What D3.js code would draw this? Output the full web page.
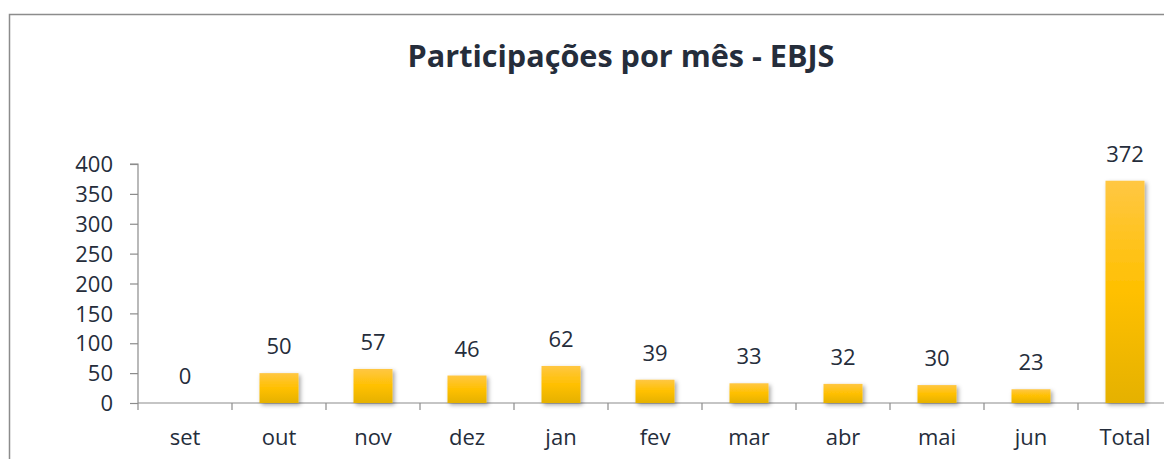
<!DOCTYPE html>
<html>
<head>
<meta charset="utf-8">
<script src="https://cdn.jsdelivr.net/npm/d3@7"></script>
<style>
  body { margin: 0; background: #fff; }
  svg { display: block; font-family: 'Open Sans', sans-serif; }
  .tick text { fill: #252d3b; }
</style>
</head>
<body>
<script>
const months = ['set', 'out', 'nov', 'dez', 'jan', 'fev', 'mar', 'abr', 'mai', 'jun', 'Total'];
const participations = [0, 50, 57, 46, 62, 39, 33, 32, 30, 23, 372];
const yTicks = [0, 50, 100, 150, 200, 250, 300, 350, 400];
const title = 'Participações por mês - EBJS';

const width = 1164, height = 459;
const textColor = '#252d3b';

const svg = d3.select('body').append('svg')
  .attr('width', width)
  .attr('height', height);

const defs = svg.append('defs');
let grad = defs.append('linearGradient')
  .attr('id', 'barFill')
  .attr('x1', 0).attr('y1', 0).attr('x2', 0).attr('y2', 1);
grad.append('stop').attr('offset', '0%').attr('stop-color', '#ffc743');
grad.append('stop').attr('offset', '50%').attr('stop-color', '#ffc000');
grad.append('stop').attr('offset', '100%').attr('stop-color', '#e5b100');

let shadow = defs.append('filter')
  .attr('id', 'shadow')
  .attr('x', '-20%').attr('y', '-20%').attr('width', '150%').attr('height', '150%');
shadow.append('feDropShadow')
  .attr('dx', 2).attr('dy', 2).attr('stdDeviation', 2)
  .attr('flood-color', '#000').attr('flood-opacity', 0.35);

// chart frame (cropped on the right and bottom)
svg.append('path')
  .attr('d', `M9.5,${height} V14.5 H${width}`)
  .attr('fill', 'none')
  .attr('stroke', '#8c8c8c')
  .attr('stroke-width', 1.5);

svg.append('text')
  .attr('x', 621)
  .attr('y', 67)
  .attr('text-anchor', 'middle')
  .attr('font-size', 30.6)
  .attr('font-weight', 'bold')
  .attr('fill', textColor)
  .text(title);

let x = d3.scaleBand()
  .domain(months)
  .range([138, 1172])
  .paddingInner(0.585)
  .paddingOuter(0.2925);

let y = d3.scaleLinear()
  .domain([0, 400])
  .range([403, 164]);

// x axis with ticks between categories
let xAxis = svg.append('g')
  .attr('transform', `translate(0,${y(0)})`);
xAxis.append('line')
  .attr('x1', x.range()[0]).attr('x2', x.range()[1])
  .attr('stroke', '#8c8c8c').attr('stroke-width', 1.2);
xAxis.selectAll('line.sep')
  .data(months)
  .enter()
  .append('line')
  .attr('class', 'sep')
  .attr('x1', (d) => x(d) - x.step() * x.paddingInner() / 2)
  .attr('x2', (d) => x(d) - x.step() * x.paddingInner() / 2)
  .attr('y1', 0).attr('y2', 7)
  .attr('stroke', '#8c8c8c').attr('stroke-width', 1.2);
xAxis.selectAll('text')
  .data(months)
  .enter()
  .append('text')
  .attr('x', (d) => x(d) + x.bandwidth() / 2)
  .attr('y', 42)
  .attr('text-anchor', 'middle')
  .attr('font-size', 22)
  .attr('fill', textColor)
  .text((d) => d);

svg.append('g')
  .attr('transform', 'translate(138,0)')
  .call(d3.axisLeft(y).tickValues(yTicks).tickSize(8).tickPadding(17))
  .call((g) => g.selectAll('line, path').attr('stroke', '#8c8c8c').attr('stroke-width', 1.2))
  .call((g) => g.select('.domain').attr('d', `M-8,${y(400)}H0V${y(0)}`))
  .call((g) => g.selectAll('text').attr('font-size', 22).attr('font-family', "'Open Sans', sans-serif").attr('dy', '0.35em'));

svg.append('g')
  .selectAll('rect')
  .data(participations)
  .enter()
  .append('rect')
  .attr('x', (d, i) => x(months[i]))
  .attr('y', (d) => y(d))
  .attr('width', x.bandwidth())
  .attr('height', (d) => y(0) - y(d))
  .attr('fill', 'url(#barFill)')
  .attr('filter', 'url(#shadow)');

svg.append('g')
  .selectAll('text')
  .data(participations)
  .enter()
  .append('text')
  .attr('x', (d, i) => x(months[i]) + x.bandwidth() / 2)
  .attr('y', (d) => y(d) - 19)
  .attr('text-anchor', 'middle')
  .attr('font-size', 22)
  .attr('fill', textColor)
  .text((d) => d);
</script>
</body>
</html>
